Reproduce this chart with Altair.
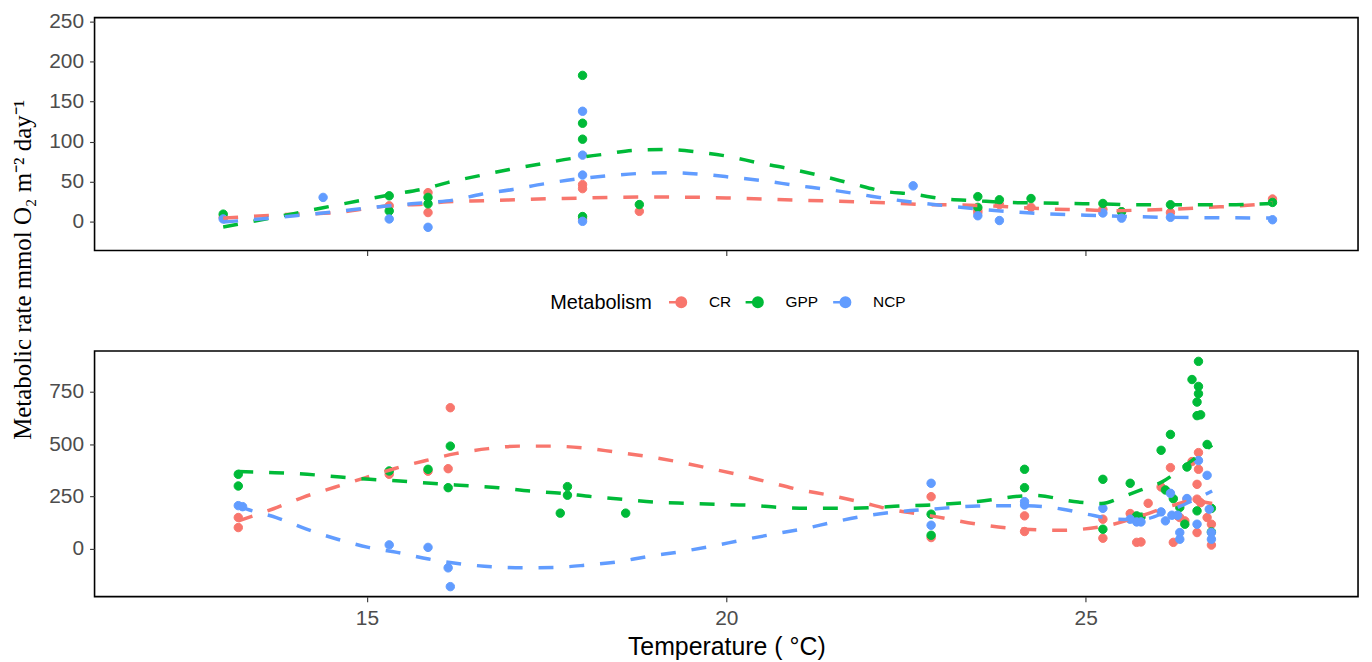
import altair as alt
import pandas as pd

METABOLISM = ["CR", "GPP", "NCP"]
COLORS = ["#F8766D", "#00BA38", "#619CFF"]
X_DOMAIN = [11.21, 28.79]
X_TICKS = [15, 20, 25]
Y_TITLE = "Metabolic rate mmol O\u2082 m\u207b\u00b2 day\u207b\u00b9"
X_TITLE = "Temperature ( \u00b0C)"

# ---------------- top panel: observations ----------------
top_cr_temp = [13.0, 15.31, 15.85, 15.85, 18.0, 18.0, 18.0, 18.79, 23.5, 23.5, 23.8, 24.24, 25.24, 25.5, 26.18, 27.6]
top_cr_rate = [5, 19.5, 36, 11, 46, 41, 3, 12.5, 14, 11, 21, 17.5, 15, 12, 11, 28]
top_gpp_temp = [13.0, 15.31, 15.31, 15.85, 15.85, 18.0, 18.0, 18.0, 18.0, 18.79, 23.5, 23.5, 23.8, 24.24, 25.24, 25.5, 26.18, 27.6]
top_gpp_rate = [9, 32, 13, 30, 22, 183, 123, 103, 6, 21, 31, 17.5, 27, 28.6, 22.4, 12, 20.8, 23.7]
top_ncp_temp = [13.0, 14.39, 15.31, 15.85, 18.0, 18.0, 18.0, 18.0, 22.6, 23.5, 23.8, 25.24, 25.5, 26.18, 27.6]
top_ncp_rate = [3, 30, 3, -7.5, 138, 83, 58, 0, 44.5, 7, 1, 10.5, 4, 5, 2]

# ---------------- top panel: smooth fits ----------------
top_fit_cr_temp = [13.0, 14.0, 14.5, 15.31, 15.85, 16.12, 16.62, 17.06, 17.5, 17.93, 18.36, 18.82, 19.25, 19.69, 20.13, 20.56,
                   21.01, 21.45, 21.87, 22.32, 22.76, 23.2, 23.65, 24.06, 24.5, 24.96, 25.4, 25.8, 26.25, 26.7, 27.16, 27.6]
top_fit_cr_rate = [4, 9, 10.4, 19.5, 22, 24.5, 25.8, 27, 28.3, 29, 30, 30.4, 30.4, 30, 29, 27.9,
                   26.6, 25.4, 24.2, 22.9, 21, 20.5, 19.5, 17.5, 15.4, 14.6, 13.3, 14.2, 15.4, 17.5, 19.5, 23]
top_fit_gpp_temp = [13.0, 14.0, 14.39, 15.31, 15.85, 16.12, 16.55, 16.98, 17.42, 17.86, 18.29, 18.72, 19.16, 19.59, 20.03,
                    20.46, 20.88, 21.32, 21.76, 22.17, 22.6, 23.04, 23.47, 23.9, 24.35, 24.79, 25.22, 25.67, 26.1, 26.55,
                    26.98, 27.6]
top_fit_gpp_rate = [-7, 10, 17, 33, 42, 48.6, 57, 65, 72, 79, 84, 89, 90, 87, 81.4,
                    73, 66, 57, 47, 38, 34, 28, 25.8, 23.7, 23, 22.4, 21.7, 20.8, 20.8, 20.8,
                    20.8, 22.4]
top_fit_ncp_temp = [13.0, 14.0, 14.39, 15.31, 15.85, 16.2, 16.59, 17.03, 17.46, 17.9, 18.34, 18.78, 19.22, 19.66, 20.1,
                    20.53, 20.97, 21.41, 21.85, 22.26, 22.6, 23.06, 23.5, 24.24, 25.24, 26.18, 27.6]
top_fit_ncp_rate = [-1, 7, 10.5, 19.5, 23.7, 26.6, 34, 40, 47, 52.8, 57, 60, 61, 59, 55,
                    50.7, 45, 40, 34, 28, 24, 19.5, 15.4, 10.4, 7.1, 5, 4.2]

# ---------------- bottom panel: observations ----------------
bot_cr_temp = [13.21, 13.21, 15.31, 15.85, 16.13, 16.16, 22.85, 22.85, 24.15, 24.15, 25.24, 25.24, 25.62, 25.71, 25.77,
               25.87, 26.05, 26.18, 26.22, 26.28, 26.31, 26.38, 26.41, 26.48, 26.55, 26.55, 26.55, 26.57, 26.57, 26.6,
               26.69, 26.75, 26.75]
bot_cr_rate = [148, 100, 355, 370, 382, 674, 248, 52, 156, 81, 140, 49, 167, 29, 31,
               216, 294, 387, 29, 156, 148, 132, 235, 416, 307, 236, 76, 459, 379, 219,
               148, 116, 16]
bot_gpp_temp = [13.21, 13.21, 15.31, 15.85, 16.13, 16.16, 17.69, 17.79, 17.79, 18.6, 22.85, 22.85, 24.15, 24.15, 25.24,
                25.24, 25.62, 25.71, 25.77, 26.05, 26.11, 26.18, 26.22, 26.31, 26.38, 26.41, 26.48, 26.55, 26.55, 26.55,
                26.57, 26.57, 26.57, 26.6, 26.69, 26.75, 26.75]
bot_gpp_rate = [355, 299, 371, 379, 291, 490, 169, 296, 255, 169, 164, 63, 379, 291, 331,
                92, 312, 156, 150, 470, 280, 546, 238, 196, 116, 390, 809, 701, 636, 180,
                896, 776, 741, 640, 498, 192, 79]
bot_ncp_temp = [13.21, 13.27, 15.31, 15.85, 16.13, 16.16, 22.85, 22.85, 24.15, 24.15, 25.24, 25.62, 25.71, 25.77, 26.05,
                26.11, 26.18, 26.2, 26.28, 26.31, 26.31, 26.41, 26.55, 26.57, 26.69, 26.72, 26.75, 26.75]
bot_ncp_rate = [205, 200, 17, 5, -93, -183, 312, 111, 224, 208, 192, 140, 127, 127, 175,
                132, 264, 159, 159, 76, 44, 239, 116, 421, 350, 188, 76, 44]

# ---------------- bottom panel: smooth fits ----------------
bot_fit_cr_temp = [13.21, 13.7, 14.11, 14.54, 14.97, 15.39, 15.82, 16.23, 16.69, 17.12, 17.56, 17.99, 18.43, 18.87, 19.31,
                   19.73, 20.16, 20.58, 21.02, 21.45, 21.87, 22.23, 22.85, 23.5, 24.15, 24.68, 24.95, 25.36, 25.77, 26.2,
                   26.49, 26.76]
bot_fit_cr_rate = [132, 190, 245, 292, 338, 383, 421, 454, 478, 490, 490, 482, 463, 442, 416,
                   386, 354, 318, 281, 254, 222, 191, 156, 116, 92, 87, 92, 114, 156, 205,
                   228, 215]
bot_fit_gpp_temp = [13.21, 13.72, 14.17, 14.63, 15.04, 15.46, 15.89, 16.23, 16.83, 17.27, 17.71, 18.13, 18.57, 19.01, 19.45,
                    19.89, 20.32, 20.75, 21.19, 21.62, 22.05, 22.41, 22.85, 23.5, 24.28, 24.9, 25.22, 25.5, 25.77, 26.07,
                    26.38, 26.76]
bot_fit_gpp_rate = [368, 363, 355, 342, 331, 323, 312, 304, 291, 275, 264, 248, 235, 222, 216,
                    211, 207, 196, 192, 192, 196, 203, 208, 225, 254, 222, 215, 245, 280, 320,
                    395, 495]
bot_fit_ncp_temp = [13.21, 13.33, 13.74, 14.16, 14.59, 15.02, 15.42, 15.86, 16.21, 16.74, 17.18, 17.62, 18.05, 18.49, 18.92,
                    19.36, 19.79, 20.22, 20.65, 21.09, 21.5, 21.94, 22.37, 22.85, 23.5, 24.15, 24.68, 25.02, 25.45, 25.77,
                    26.13, 26.47, 26.76]
bot_fit_ncp_rate = [203, 188, 148, 92, 44, 5, -19, -51, -70, -88, -93, -91, -80, -64, -38,
                    -16, 10, 40, 68, 95, 127, 156, 175, 188, 203, 205, 188, 164, 140, 138,
                    176, 226, 275]


def frame(groups):
    rows = []
    for m, temps, rates in groups:
        for t, v in zip(temps, rates):
            rows.append({"Metabolism": m, "temp": t, "rate": v})
    return pd.DataFrame(rows)


top_pts = frame([("CR", top_cr_temp, top_cr_rate), ("GPP", top_gpp_temp, top_gpp_rate), ("NCP", top_ncp_temp, top_ncp_rate)])
top_fit = frame([("CR", top_fit_cr_temp, top_fit_cr_rate), ("GPP", top_fit_gpp_temp, top_fit_gpp_rate),
                 ("NCP", top_fit_ncp_temp, top_fit_ncp_rate)])
bot_pts = frame([("CR", bot_cr_temp, bot_cr_rate), ("GPP", bot_gpp_temp, bot_gpp_rate), ("NCP", bot_ncp_temp, bot_ncp_rate)])
bot_fit = frame([("CR", bot_fit_cr_temp, bot_fit_cr_rate), ("GPP", bot_fit_gpp_temp, bot_fit_gpp_rate),
                 ("NCP", bot_fit_ncp_temp, bot_fit_ncp_rate)])

SYMBOL = "M-2.6,0L0,0M1,0A1,1,0,1,1,-1,0A1,1,0,1,1,1,0Z"
legend = alt.Legend(
    orient="none", legendX=458, legendY=278, direction="horizontal",
    title="Metabolism", titleOrient="left", titleFont="Liberation Sans", titleFontSize=20,
    titleFontWeight="normal", titleColor="black", titlePadding=21,
    labelFont="Liberation Sans", labelFontSize=15.5, labelColor="black", labelOffset=20,
    columnPadding=9, symbolType=SYMBOL, symbolSize=90, symbolStrokeWidth=2.5,
)
cscale = alt.Scale(domain=METABOLISM, range=COLORS)


def panel(pts, fit, y_domain, y_values, height, bottom):
    if bottom:
        xaxis = alt.Axis(values=X_TICKS, title=X_TITLE, titleFont="Liberation Sans", titleFontSize=25,
                         titleFontWeight="normal", titleColor="black", titlePadding=6)
        yaxis = alt.Axis(values=y_values, title=Y_TITLE, titleFont="Liberation Serif", titleFontSize=25,
                         titleFontWeight="normal", titleColor="black", titleX=-72, titleY=-82,
                         titleBaseline="middle", titleAlign="center", titleAngle=270)
    else:
        xaxis = alt.Axis(values=X_TICKS, labels=False, title=None)
        yaxis = alt.Axis(values=y_values, title=None)
    x = alt.X("temp:Q", scale=alt.Scale(domain=X_DOMAIN, nice=False, zero=False), axis=xaxis)
    y = alt.Y("rate:Q", scale=alt.Scale(domain=y_domain, nice=False, zero=False), axis=yaxis)
    points = alt.Chart(pts).mark_circle(size=72, opacity=1, strokeWidth=1).encode(
        x=x, y=y,
        color=alt.Color("Metabolism:N", scale=cscale, legend=legend),
        stroke=alt.Stroke("Metabolism:N", scale=cscale, legend=legend),
    )
    layers = [points]
    for m, c in zip(METABOLISM, COLORS):
        layers.append(
            alt.Chart(fit).transform_filter(alt.datum.Metabolism == m)
            .mark_line(color=c, strokeDash=[15, 16], strokeWidth=3.5, interpolate="monotone")
            .encode(x=x, y=y)
        )
    return alt.layer(*layers).properties(width=1270, height=height)


top = panel(top_pts, top_fit, [-36.5, 255.4], [0, 50, 100, 150, 200, 250], 234, False)
bottom = panel(bot_pts, bot_fit, [-231, 946], [0, 250, 500, 750], 247, True)

chart = (
    alt.vconcat(top, bottom, spacing=101, bounds="flush")
    .resolve_scale(color="shared", stroke="shared")
    .resolve_legend(color="shared", stroke="shared")
    .properties(padding={"left": 2, "top": 0, "right": 5, "bottom": 2}, background="white")
    .configure_view(stroke="black", strokeWidth=1.6)
    .configure_axis(grid=False, domain=False, tickColor="#333333", tickWidth=1.1, tickSize=5,
                    labelColor="#4D4D4D", labelFont="Liberation Sans", labelFontSize=21, labelPadding=6)
)

chart.save("out.html", embed_options={"renderer": "svg", "actions": False})
